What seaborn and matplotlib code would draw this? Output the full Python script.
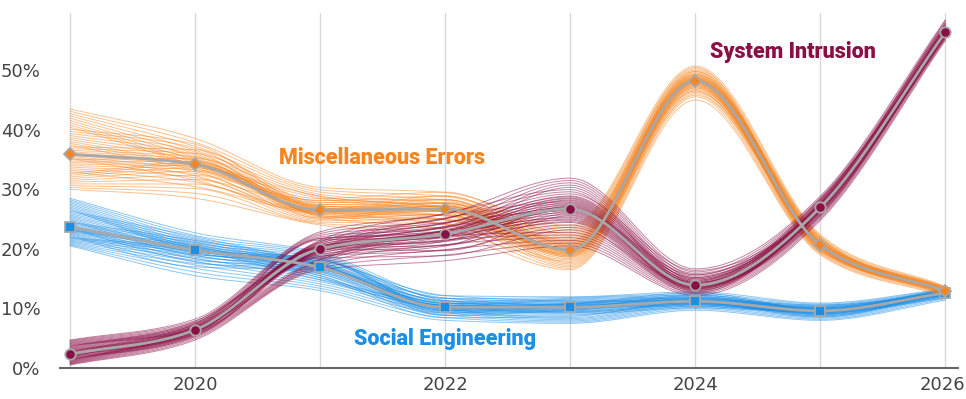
import numpy as np
import pandas as pd
import matplotlib
matplotlib.use('Agg')
import matplotlib.pyplot as plt
import matplotlib.transforms as mtransforms
import seaborn as sns

# Values (percent of breaches)
years = [2019, 2020, 2021, 2022, 2023, 2024, 2025, 2026]

misc_errors = [35.9, 34.2, 26.5, 26.7, 19.8, 48.2, 20.6, 12.9]
misc_low = [30.0, 28.5, 24.0, 22.5, 16.5, 45.0, 19.0, 12.0]
misc_high = [43.5, 39.0, 30.5, 30.0, 24.0, 51.0, 22.5, 13.8]

social_eng = [23.7, 19.8, 16.9, 10.2, 10.2, 11.2, 9.6, 12.6]
social_low = [20.5, 15.5, 13.0, 8.0, 7.5, 9.7, 8.0, 11.4]
social_high = [28.5, 23.0, 19.5, 12.5, 12.0, 13.0, 11.0, 13.4]

sys_intrusion = [2.3, 6.4, 20.0, 22.5, 26.7, 13.9, 27.0, 56.4]
sys_low = [0.5, 4.7, 16.5, 18.0, 20.5, 12.2, 24.8, 55.0]
sys_high = [4.7, 8.4, 23.0, 26.5, 32.0, 17.0, 29.0, 58.8]

names = ['Social Engineering', 'Miscellaneous Errors', 'System Intrusion']
colors = {'Miscellaneous Errors': '#f7841f',
          'Social Engineering': '#1b8ee6',
          'System Intrusion': '#8a0f45'}
markers = {'Miscellaneous Errors': 'D', 'Social Engineering': 's',
           'System Intrusion': 'o'}
msizes = {'Miscellaneous Errors': 6.5, 'Social Engineering': 6.5,
          'System Intrusion': 7.5}


def monotone(x, y, n=40):
    # monotone cubic (like d3 curveMonotoneX) just for drawing the curve
    x = np.asarray(x, float)
    y = np.asarray(y, float)
    h = np.diff(x)
    d = np.diff(y) / h
    m = np.zeros_like(y)
    m[0], m[-1] = d[0], d[-1]
    for i in range(1, len(y) - 1):
        if d[i - 1] * d[i] <= 0:
            m[i] = 0
        else:
            p = (d[i - 1] * h[i] + d[i] * h[i - 1]) / (h[i - 1] + h[i])
            m[i] = np.sign(d[i]) * min(2 * abs(d[i - 1]), 2 * abs(d[i]),
                                       abs(p))
    xs, ys = [], []
    for i in range(len(x) - 1):
        t = np.linspace(0, 1, n, endpoint=False)
        h00 = 2 * t**3 - 3 * t**2 + 1
        h10 = t**3 - 2 * t**2 + t
        h01 = -2 * t**3 + 3 * t**2
        h11 = t**3 - t**2
        xs.append(x[i] + t * h[i])
        ys.append(h00 * y[i] + h10 * h[i] * m[i] + h01 * y[i + 1]
                  + h11 * h[i] * m[i + 1])
    xs.append([x[-1]])
    ys.append([y[-1]])
    return np.concatenate(xs), np.concatenate(ys)


series = {
    'Miscellaneous Errors': (misc_errors, misc_low, misc_high),
    'Social Engineering': (social_eng, social_low, social_high),
    'System Intrusion': (sys_intrusion, sys_low, sys_high),
}

# bundle of thin curves spread between the low/high envelopes;
# the order of the curves is shuffled a bit from year to year so they cross
rows = []
n_lines = 47
steps = [1, 5, 3, 8, 2, 6, 4, 7]
for name in names:
    main, lo, hi = [np.array(v) for v in series[name]]
    for k in range(n_lines):
        base = k / (n_lines - 1)
        mixed = np.array([(k * a) % n_lines / (n_lines - 1) for a in steps])
        s = 2 * (0.55 * base + 0.45 * mixed) - 1
        w = np.sign(s) * np.abs(s) ** 1.2
        vals = np.where(w >= 0, main + w * (hi - main), main + w * (main - lo))
        xs, ys = monotone(years, vals)
        rows.append(pd.DataFrame({'year': xs, 'value': ys,
                                  'series': name, 'draw': k}))
bundle = pd.concat(rows, ignore_index=True)

fig = plt.figure(figsize=(9.66, 3.99), dpi=100)
ax = fig.add_axes([0.0621, 0.0777, 0.9296, 0.8897])
sns.set_style('white')
plt.rcParams['font.family'] = ['Liberation Sans', 'DejaVu Sans']

sns.lineplot(data=bundle, x='year', y='value', hue='series',
             units='draw', estimator=None, palette=colors,
             hue_order=names, lw=0.7, alpha=0.5, legend=False, ax=ax,
             sort=False)

for name in names:
    xs, ys = monotone(years, series[name][0])
    ax.plot(xs, ys, color='#a8a8a8', lw=2.0, zorder=5)
    ax.plot(years, series[name][0], ls='none', marker=markers[name],
            ms=msizes[name], mfc=colors[name], mec='#a8a8a8', mew=1.3,
            zorder=6)

label_font = ['Roboto', 'DejaVu Sans']
ax.text(2020.67, 35.2, 'Miscellaneous Errors', color=colors['Miscellaneous Errors'],
        fontsize=15.5, fontweight='black', va='center', family=label_font)
ax.text(2021.27, 4.9, 'Social Engineering', color=colors['Social Engineering'],
        fontsize=15.5, fontweight='black', va='center', family=label_font)
ax.text(2024.12, 53.0, 'System Intrusion', color=colors['System Intrusion'],
        fontsize=15.5, fontweight='black', va='center', family=label_font)

ax.set_xlim(2018.92, 2026.1)
ax.set_ylim(0, 59.6)
ax.set_xticks(years)
ax.set_xticklabels([str(y) if y % 2 == 0 else '' for y in years])
ax.set_yticks([0, 10, 20, 30, 40, 50])
ax.set_yticklabels(['0%', '10%', '20%', '30%', '40%', '50%'])
ax.grid(axis='x', color='#d9d9d9', lw=1)
ax.grid(axis='y', visible=False)
ax.set_axisbelow(True)
for side in ['top', 'left', 'right']:
    ax.spines[side].set_visible(False)
ax.spines['bottom'].set_color('#666666')
ax.spines['bottom'].set_linewidth(1.5)
ax.tick_params(axis='both', length=0, labelsize=13, colors='#444444')
ax.tick_params(axis='y', pad=14)
ax.tick_params(axis='x', pad=6)
ax.set_xlabel('')
ax.set_ylabel('')

# keep the last year label inside the picture
last = ax.get_xticklabels()[-1]
last.set_transform(last.get_transform() +
                   mtransforms.ScaledTranslation(-3 / 100, 0, fig.dpi_scale_trans))

fig.savefig('out.png', dpi=100)
